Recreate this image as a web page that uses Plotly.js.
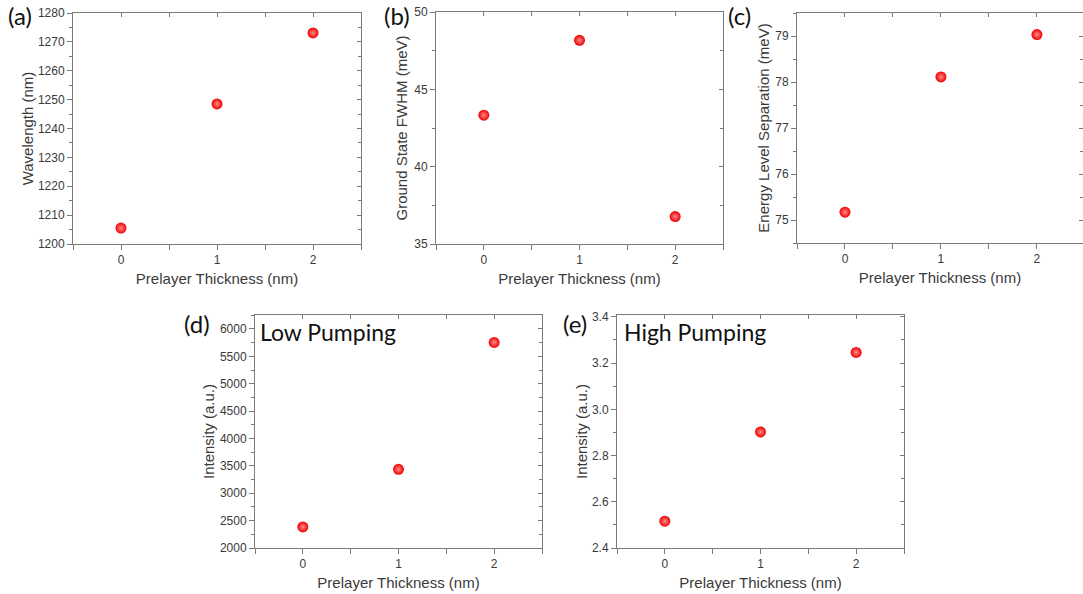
<!DOCTYPE html>
<html>
<head>
<meta charset="utf-8">
<script src="https://cdn.plot.ly/plotly-3.0.1.min.js"></script>
<style>html,body{margin:0;padding:0;background:#fff;}#chart{width:1083px;height:594px;}</style>
</head>
<body>
<div id="chart"></div>
<script>
// ---- data ----
const thickness = [0, 1, 2];
const wavelength = [1205.5, 1248.5, 1273.1];
const fwhm = [43.33, 48.17, 36.77];
const separation = [75.17, 78.11, 79.03];
const lowPumping = [2385, 3436, 5755];
const highPumping = [2.516, 2.902, 3.246];

const xTitle = "Prelayer Thickness (nm)";
const yTitles = ["Wavelength (nm)", "Ground State FWHM (meV)", "Energy Level Separation (meV)", "Intensity (a.u.)", "Intensity (a.u.)"];
const panelLabels = ["(a)", "(b)", "(c)", "(d)", "(e)"];
const insetTexts = ["", "", "", "Low Pumping", "High Pumping"];
const seriesList = [wavelength, fwhm, separation, lowPumping, highPumping];

// ---- layout settings ----
const W = 1083, H = 594;
const boxes = [ // left, right, top, bottom in px
  [73, 361, 13, 244],
  [436, 723, 12, 244],
  [797, 1083, 13, 243],
  [255, 542, 315, 548],
  [617, 904, 315, 548]
];
const xRanges = [[-0.5, 2.5], [-0.5, 2.5], [-0.5, 2.48], [-0.5, 2.5], [-0.5, 2.5]];
const yRanges = [[1200, 1280], [35, 50], [74.5, 79.5], [2000, 6255], [2.4, 3.408]];
const yDticks = [10, 5, 1, 500, 0.2];
const yMinor = [5, 2.5, 0.5, 250, 0.1];
const yFormats = ['d', 'd', 'd', 'd', '.1f'];
const yStandoff = [0, 2, 1, 1, 0];
const labelPos = [[6, 16], [382, 16], [726, 16], [182, 323], [561, 323]];
const insetPos = [null, null, null, [258, 332], [622, 332]];

const axCol = '#7a7a7a';
const textCol = '#3a3a3a';
const tickFont = {family: '"Liberation Sans", Arial, sans-serif', size: 12, color: textCol};
const titleFont = {family: '"Liberation Sans", Arial, sans-serif', size: 15, color: textCol};

const data = [];
const layout = {
  width: W, height: H,
  margin: {l: 0, r: 0, t: 0, b: 0},
  paper_bgcolor: '#fff', plot_bgcolor: '#fff',
  showlegend: false,
  annotations: []
};

for (let i = 0; i < 5; i++) {
  const n = i + 1, o = i + 6;
  const xs = n === 1 ? '' : String(n);
  const b = boxes[i];
  const xd = [b[0] / W, b[1] / W];
  const yd = [1 - b[3] / H, 1 - b[2] / H];

  data.push({
    type: 'scatter', mode: 'markers',
    x: thickness, y: seriesList[i],
    xaxis: 'x' + xs, yaxis: 'y' + xs,
    marker: {size: 11, color: '#f00000', line: {width: 0},
             gradient: {type: 'radial', color: '#ff8a8a'}},
    hoverinfo: 'x+y'
  });
  data.push({type: 'scatter', mode: 'markers', x: [], y: [], xaxis: 'x' + o, yaxis: 'y' + o, hoverinfo: 'skip'});

  layout['xaxis' + xs] = {
    domain: xd, anchor: 'y' + xs, range: xRanges[i],
    tick0: 0, dtick: 1, ticks: 'outside', ticklen: 5, tickwidth: 1, tickcolor: axCol,
    showline: true, linecolor: axCol, linewidth: 1,
    showgrid: false, zeroline: false, tickfont: tickFont,
    minor: {dtick: 0.5, tick0: 0, ticks: 'outside', ticklen: 5, tickcolor: axCol, showgrid: false},
    title: {text: xTitle, font: titleFont, standoff: 7},
    fixedrange: true
  };
  layout['yaxis' + xs] = {
    domain: yd, anchor: 'x' + xs, range: yRanges[i],
    tick0: 0, dtick: yDticks[i], tickformat: yFormats[i],
    ticks: 'outside', ticklen: 5, tickwidth: 1, tickcolor: axCol,
    showline: true, linecolor: axCol, linewidth: 1,
    showgrid: false, zeroline: false, tickfont: tickFont,
    minor: {dtick: yMinor[i], tick0: 0, ticks: 'outside', ticklen: 3, tickcolor: axCol, showgrid: false},
    title: {text: yTitles[i], font: titleFont, standoff: yStandoff[i]},
    fixedrange: true
  };
  layout['xaxis' + o] = {
    overlaying: 'x' + xs, side: 'top', anchor: 'y' + o, range: xRanges[i],
    tick0: 0, dtick: 1, ticks: 'inside', ticklen: 4, tickcolor: axCol,
    showticklabels: false, showline: true, linecolor: axCol, linewidth: 1,
    showgrid: false, zeroline: false,
    minor: {dtick: 0.5, tick0: 0, ticks: 'inside', ticklen: 4, tickcolor: axCol, showgrid: false},
    fixedrange: true
  };
  layout['yaxis' + o] = {
    overlaying: 'y' + xs, side: 'right', anchor: 'x' + o, range: yRanges[i],
    tick0: 0, dtick: yDticks[i], ticks: 'inside', ticklen: 4, tickcolor: axCol,
    showticklabels: false, showline: true, linecolor: axCol, linewidth: 1,
    showgrid: false, zeroline: false,
    minor: {dtick: yMinor[i], tick0: 0, ticks: 'inside', ticklen: 3, tickcolor: axCol, showgrid: false},
    fixedrange: true
  };

  layout.annotations.push({
    text: panelLabels[i], xref: 'paper', yref: 'paper',
    x: labelPos[i][0] / W, y: 1 - labelPos[i][1] / H, xanchor: 'left', yanchor: 'middle',
    showarrow: false, font: {family: 'Lato, "Open Sans", sans-serif', size: 24, color: '#111'}
  });
  if (insetPos[i]) {
    layout.annotations.push({
      text: insetTexts[i], xref: 'paper', yref: 'paper',
      x: insetPos[i][0] / W, y: 1 - insetPos[i][1] / H, xanchor: 'left', yanchor: 'middle',
      showarrow: false, font: {family: 'Lato, "Open Sans", sans-serif', size: 23, color: '#111'}
    });
  }
}

Plotly.newPlot('chart', data, layout, {staticPlot: true, displayModeBar: false});
</script>
</body>
</html>
